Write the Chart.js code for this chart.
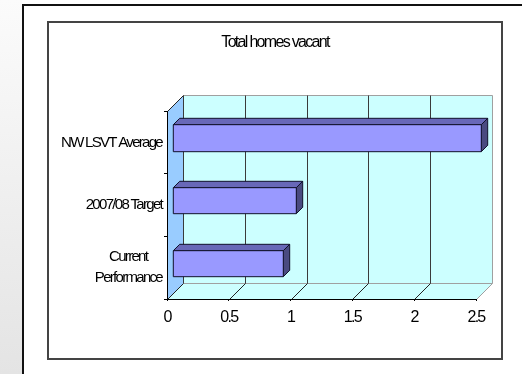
<!DOCTYPE html>
<html>
<head>
<meta charset="utf-8">
<script src="https://cdn.jsdelivr.net/npm/chart.js@4.4.1/dist/chart.umd.min.js"></script>
<style>
    html, body { margin: 0; padding: 0; background: #fff; overflow: hidden; }
    #page  { position: relative; width: 522px; height: 374px; }
    #strip { position: absolute; left: 0; top: 0; width: 22px; height: 374px; background: linear-gradient(#fbfbfb, #e4e4e4); }
    #outer { position: absolute; left: 22px; top: 4px; width: 520px; height: 400px; border-left: 2px solid #111; border-top: 2px solid #111; }
    #inner { position: absolute; left: 47px; top: 21px; width: 452px; height: 335px; border: 2px solid #444; }
    #wrap  { position: absolute; left: 0; top: 0; width: 522px; height: 374px; }
</style>
</head>
<body>
<div id="page">
    <div id="strip"></div>
    <div id="outer"></div>
    <div id="inner"></div>
    <div id="wrap"><canvas id="vacantChart"></canvas></div>
</div>
<script>
// ── Data ─────────────────────────────────────
const categories = ['NW LSVT Average', '2007/08 Target', ['Current', 'Performance']];
const vacantValues = [2.5, 1.0, 0.9];
const xTickLabels = ['0', '0.5', '1', '1.5', '2', '2.5'];

// ── 3D look ──────────────────────────────────
const DEPTH = 16;              // wall depth in px
const BAR_FRONT = 0.3;         // bar front face, fraction of depth
const BAR_BACK = 0.7;          // bar back face
const SQUEEZE = '-1.7px';      // letter spacing of all texts
const FONT = "'Liberation Sans', Arial, sans-serif";
const CAT_SIZE = 15;

function poly(ctx, pts, fill) {
    ctx.beginPath();
    ctx.moveTo(pts[0][0], pts[0][1]);
    pts.slice(1).forEach(p => ctx.lineTo(p[0], p[1]));
    ctx.closePath();
    if (fill) { ctx.fillStyle = fill; ctx.fill(); }
}

// center the lines of a wrapped label against each other (labels are right aligned)
const measureCtx = document.createElement('canvas').getContext('2d');
measureCtx.font = CAT_SIZE + 'px ' + FONT;
measureCtx.letterSpacing = SQUEEZE;
function centerLines(label) {
    if (!Array.isArray(label)) return label;
    const w = label.map(s => measureCtx.measureText(s).width);
    const max = Math.max(...w);
    const sp = measureCtx.measureText(' ').width;
    return label.map((s, i) => s + ' '.repeat(Math.round((max - w[i]) / 2 / sp)));
}

const box3d = {
    id: 'box3d',
    beforeDraw(chart) {
        const { ctx, chartArea: a, scales: { x } } = chart;
        const d = DEPTH;
        const L = Math.round(a.left) + 0.5, R = Math.round(a.right) + 0.5;
        const T = Math.round(a.top) + 0.5, B = Math.round(a.bottom) + 0.5;

        ctx.letterSpacing = SQUEEZE;

        ctx.save();
        ctx.lineWidth = 1;

        // side wall, back wall, floor
        poly(ctx, [[L, T], [L + d, T - d], [L + d, B - d], [L, B]], '#99ccff');
        poly(ctx, [[L + d, T - d], [R + d, T - d], [R + d, B - d], [L + d, B - d]], '#ccffff');
        poly(ctx, [[L, B], [L + d, B - d], [R + d, B - d], [R, B]], '#ccffff');

        // grey outer edges
        ctx.strokeStyle = '#a0a0a0';
        ctx.beginPath();
        ctx.moveTo(L + d, T - d); ctx.lineTo(R + d, T - d); ctx.lineTo(R + d, B - d); ctx.lineTo(R, B);
        ctx.moveTo(L + d, B - d); ctx.lineTo(R + d, B - d);
        ctx.stroke();

        // gridlines on back wall + floor
        const last = x.ticks.length - 1;
        x.ticks.forEach((t, i) => {
            const px = Math.round(x.getPixelForValue(t.value)) + 0.5;
            if (i === last) return;
            ctx.strokeStyle = '#3a3a3a';
            ctx.beginPath();
            ctx.moveTo(px + d, T - d); ctx.lineTo(px + d, B - d);
            ctx.stroke();
            ctx.strokeStyle = '#222';
            ctx.beginPath();
            ctx.moveTo(px, B); ctx.lineTo(px + d, B - d);
            ctx.stroke();
        });

        // top-left edge of side wall
        ctx.strokeStyle = '#222';
        ctx.beginPath();
        ctx.moveTo(L, T); ctx.lineTo(L + d, T - d);
        ctx.stroke();
        ctx.restore();
    },
    afterDatasetsDraw(chart) {
        const ctx = chart.ctx;
        const f = DEPTH * BAR_FRONT, b = DEPTH * BAR_BACK;
        ctx.save();
        ctx.lineWidth = 1;
        ctx.strokeStyle = '#10102a';
        ctx.lineJoin = 'round';
        chart.getDatasetMeta(0).data.forEach(bar => {
            const { x, y, base, height } = bar.getProps(['x', 'y', 'base', 'height'], true);
            const x0 = Math.round(base) + 0.5, x1 = Math.round(x) + 0.5;
            const top = Math.round(y - height / 2) + 0.5, bot = Math.round(y + height / 2) + 0.5;
            // top face
            poly(ctx, [[x0 + f, top - f], [x0 + b, top - b], [x1 + b, top - b], [x1 + f, top - f]], '#6868b8');
            ctx.stroke();
            // right face
            poly(ctx, [[x1 + f, top - f], [x1 + b, top - b], [x1 + b, bot - b], [x1 + f, bot - f]], '#4a4a80');
            ctx.stroke();
            // front face
            poly(ctx, [[x0 + f, top - f], [x1 + f, top - f], [x1 + f, bot - f], [x0 + f, bot - f]], '#9999ff');
            ctx.stroke();
        });
        ctx.restore();
    }
};

Chart.defaults.font.family = FONT;
Chart.defaults.color = '#000';

new Chart(document.getElementById('vacantChart'), {
    type: 'bar',
    data: {
        labels: categories,
        datasets: [{
            label: 'Total homes vacant',
            data: vacantValues,
            backgroundColor: 'rgba(0,0,0,0)',
            borderWidth: 0,
            barPercentage: 0.42,
            categoryPercentage: 1
        }]
    },
    options: {
        indexAxis: 'y',
        responsive: true,
        maintainAspectRatio: false,
        animation: false,
        layout: { padding: { left: 28, right: 0, top: 0, bottom: 0 } },
        plugins: {
            legend: { display: false },
            tooltip: { enabled: false },
            title: {
                display: true,
                text: 'Total homes vacant',
                color: '#000',
                font: { size: 16, weight: 'normal' },
                padding: { top: 33, bottom: 59 }
            }
        },
        scales: {
            x: {
                min: 0,
                max: 2.5,
                ticks: {
                    stepSize: 0.5,
                    padding: 7,
                    font: { size: 16 },
                    callback: (v, i) => xTickLabels[i]
                },
                grid: { drawOnChartArea: false, tickLength: 2, color: '#000' },
                border: { display: true, color: '#000' },
                afterFit: s => { s.height = 75; s.paddingLeft = 0; s.paddingRight = 0; }
            },
            y: {
                ticks: {
                    padding: 2,
                    font: { size: CAT_SIZE, lineHeight: 1.4 },
                    callback: (v, i) => centerLines(categories[i])
                },
                grid: { drawOnChartArea: false, tickLength: 3, color: '#000' },
                border: { display: true, color: '#000' },
                afterFit: s => { s.width = 139; s.paddingTop = 0; s.paddingBottom = 0; }
            },
            // empty right-hand strip so the title centres like the original
            spacer: {
                type: 'linear',
                position: 'right',
                ticks: { display: false },
                grid: { display: false },
                border: { display: false },
                afterFit: s => { s.width = 46; }
            }
        }
    },
    plugins: [box3d]
});
</script>
</body>
</html>
